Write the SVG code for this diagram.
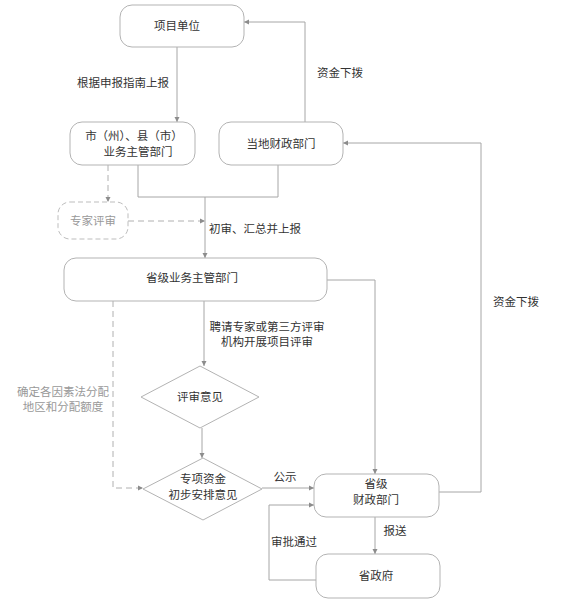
<svg xmlns="http://www.w3.org/2000/svg" width="564" height="609" viewBox="0 0 564 609">
<defs>
<marker id="ah" markerWidth="6" markerHeight="6" refX="5" refY="3" orient="auto" markerUnits="userSpaceOnUse">
<path d="M0,0.5 L5,3 L0,5.5 Z" fill="#8c8c8c"/>
</marker>
<style>
.box{fill:#fff;stroke:#b3b3b3;stroke-width:1}
.dbox{fill:#fff;stroke:#bdbdbd;stroke-width:1;stroke-dasharray:5,3}
.ln{fill:none;stroke:#a6a6a6;stroke-width:1}
.dl{fill:none;stroke:#b0b0b0;stroke-width:1;stroke-dasharray:6,4}
text{font-family:"Noto Sans CJK SC","Noto Sans",sans-serif;font-size:11.5px;fill:#333}
.g{fill:#999}
.c{text-anchor:middle}
</style>
</defs>
<rect width="564" height="609" fill="#fff"/>
<g id="connectors">
<path class="ln" d="M177,47 V122" marker-end="url(#ah)"/>
<path class="ln" d="M305,122 V22 H244" marker-end="url(#ah)"/>
<path class="ln" d="M481,492 H439"/>
<path class="ln" d="M481,492 V143 H343" marker-end="url(#ah)"/>
<path class="ln" d="M138,165 V197 H278 V165"/>
<path class="ln" d="M205,197 V258" marker-end="url(#ah)"/>
<path class="dl" d="M108,165 V202" marker-end="url(#ah)"/>
<path class="dl" d="M128,221 H205" marker-end="url(#ah)"/>
<path class="ln" d="M327,280 H375 V474" marker-end="url(#ah)"/>
<path class="ln" d="M204,301 V366" marker-end="url(#ah)"/>
<path class="dl" d="M113,301 V488 H143" marker-end="url(#ah)"/>
<path class="ln" d="M202,428 V458" marker-end="url(#ah)"/>
<path class="ln" d="M262,488 H314" marker-end="url(#ah)"/>
<path class="ln" d="M375,517 V554" marker-end="url(#ah)"/>
<path class="ln" d="M316,580 H269 V505 H314" marker-end="url(#ah)"/>
</g>
<g id="labels">
<text x="123" y="87" class="c">根据申报指南上报</text>
<text x="340" y="77" class="c">资金下拨</text>
<text x="255" y="233" class="c">初审、汇总并上报</text>
<text x="267" y="331" class="c">聘请专家或第三方评审</text>
<text x="267" y="346" class="c">机构开展项目评审</text>
<text x="63" y="396" class="c g">确定各因素法分配</text>
<text x="63" y="411" class="c g">地区和分配额度</text>
<text x="516" y="306" class="c">资金下拨</text>
<text x="285" y="481" class="c">公示</text>
<text x="395" y="535" class="c">报送</text>
<text x="294" y="546" class="c">审批通过</text>
</g>
<g id="xiangmu">
<rect class="box" x="120" y="5" width="124" height="42" rx="12"/>
<text x="177" y="30" class="c">项目单位</text>
</g>
<g id="shixian">
<rect class="box" x="70" y="122" width="125" height="43" rx="12"/>
<text x="134" y="140" class="c">市（州）、县（市）</text>
<text x="138" y="156" class="c">业务主管部门</text>
</g>
<g id="dangdi">
<rect class="box" x="219" y="122" width="124" height="43" rx="12"/>
<text x="281" y="148" class="c">当地财政部门</text>
</g>
<g id="zhuanjia">
<rect class="dbox" x="58" y="202" width="70" height="37" rx="12"/>
<text x="93" y="225" class="c g">专家评审</text>
</g>
<g id="shengye">
<rect class="box" x="64" y="258" width="263" height="43" rx="12"/>
<text x="192" y="282" class="c">省级业务主管部门</text>
</g>
<g id="pingshen">
<polygon class="box" points="200,366 259,397 200,428 141,397"/>
<text x="200" y="401" class="c">评审意见</text>
</g>
<g id="zhuanxiang">
<polygon class="box" points="203,458 262,489 203,520 143,489"/>
<text x="203" y="483" class="c">专项资金</text>
<text x="203" y="499" class="c">初步安排意见</text>
</g>
<g id="shengcai">
<rect class="box" x="314" y="474" width="125" height="43" rx="12"/>
<text x="376" y="488" class="c">省级</text>
<text x="376" y="504" class="c">财政部门</text>
</g>
<g id="shengzhengfu">
<rect class="box" x="316" y="554" width="124" height="44" rx="12"/>
<text x="376" y="580" class="c">省政府</text>
</g>
</svg>
